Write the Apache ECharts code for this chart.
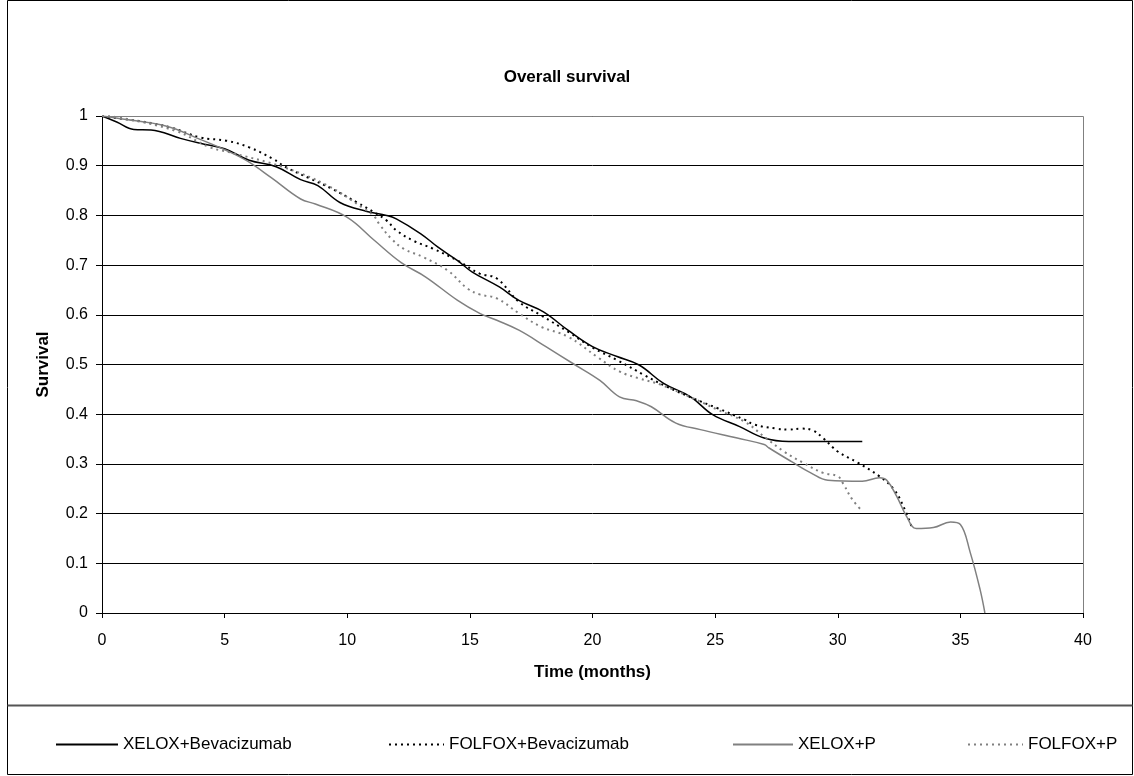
<!DOCTYPE html>
<html>
<head>
<meta charset="utf-8">
<script src="https://cdn.jsdelivr.net/npm/echarts@6/dist/echarts.min.js"></script>
<style>
  html, body { margin: 0; padding: 0; background: #fff; }
  #chart { width: 1134px; height: 776px; }
</style>
</head>
<body>
<div id="chart"></div>
<script>
// XELOX+Bevacizumab
var xeloxBevTime = [0, 0.6, 1.3, 2.0, 3.2, 4.0, 5.0, 6.0, 7.1, 8.1, 8.8, 9.7, 10.8, 11.6, 12.0, 13.0, 13.7, 14.5, 15.1, 16.2, 17.0, 18.0, 19.0, 20.0, 21.0, 21.9, 22.9, 24.0, 24.9, 26.0, 27.0, 28.0, 31.0];
var xeloxBevSurv = [1, 0.988, 0.973, 0.972, 0.955, 0.945, 0.934, 0.911, 0.898, 0.872, 0.86, 0.826, 0.808, 0.80, 0.793, 0.763, 0.736, 0.709, 0.686, 0.656, 0.629, 0.606, 0.569, 0.536, 0.516, 0.499, 0.462, 0.435, 0.399, 0.375, 0.352, 0.345, 0.345];

// FOLFOX+Bevacizumab
var folfoxBevTime = [0, 0.7, 1.5, 2.8, 4.0, 5.1, 6.0, 7.0, 7.5, 8.4, 9.4, 10.4, 11.1, 11.6, 12.0, 12.7, 13.5, 14.5, 15.4, 16.1, 17.0, 17.9, 19.0, 20.0, 21.0, 22.1, 23.0, 24.1, 25.1, 26.2, 26.6, 27.5, 28.0, 28.5, 29.0, 29.4, 30.0, 30.8, 31.7, 32.3, 32.7, 33.0];
var folfoxBevSurv = [1, 0.995, 0.99, 0.977, 0.957, 0.95, 0.937, 0.913, 0.897, 0.876, 0.853, 0.826, 0.806, 0.79, 0.77, 0.749, 0.733, 0.709, 0.683, 0.673, 0.626, 0.599, 0.566, 0.534, 0.509, 0.479, 0.456, 0.432, 0.412, 0.389, 0.379, 0.371, 0.369, 0.371, 0.367, 0.352, 0.325, 0.303, 0.275, 0.248, 0.212, 0.175];

// XELOX+P
var xeloxPTime = [0, 0.7, 2.6, 4.0, 5.1, 5.9, 6.9, 8.1, 8.7, 10.0, 11.1, 12.2, 13.2, 14.5, 15.4, 16.1, 17.0, 18.1, 19.2, 20.3, 21.1, 21.8, 22.4, 23.4, 24.4, 25.9, 27.0, 27.2, 28.1, 28.9, 29.6, 31.0, 31.7, 32.0, 32.4, 32.8, 33.2, 33.9, 34.6, 35.0, 35.4, 35.8, 36.0];
var xeloxPSurv = [1, 0.995, 0.98, 0.953, 0.93, 0.91, 0.876, 0.833, 0.823, 0.796, 0.75, 0.705, 0.676, 0.629, 0.603, 0.589, 0.569, 0.536, 0.502, 0.468, 0.435, 0.427, 0.415, 0.382, 0.369, 0.352, 0.339, 0.332, 0.305, 0.282, 0.267, 0.265, 0.272, 0.267, 0.235, 0.195, 0.17, 0.172, 0.183, 0.178, 0.122, 0.048, 0];

// FOLFOX+P
var folfoxPTime = [0, 0.7, 3.0, 4.4, 5.2, 7.4, 9.2, 10.7, 11.1, 11.3, 11.8, 12.3, 13.1, 14.1, 14.9, 15.4, 16.1, 17.0, 17.9, 19.0, 20.2, 21.1, 21.9, 22.8, 24.1, 25.1, 26.2, 27.0, 27.8, 28.6, 29.4, 30.0, 30.2, 30.6, 31.0];
var folfoxPSurv = [1, 0.997, 0.97, 0.937, 0.927, 0.897, 0.86, 0.813, 0.798, 0.783, 0.753, 0.733, 0.716, 0.689, 0.653, 0.641, 0.633, 0.603, 0.576, 0.556, 0.515, 0.486, 0.472, 0.459, 0.432, 0.409, 0.385, 0.355, 0.325, 0.302, 0.282, 0.275, 0.262, 0.228, 0.205];

var seriesNames = ['XELOX+Bevacizumab', 'FOLFOX+Bevacizumab', 'XELOX+P', 'FOLFOX+P'];

function pairs(t, s) {
  return t.map(function (v, i) { return [v, s[i]]; });
}

var font = 'Liberation Sans, Arial, sans-serif';

function lineSeries(name, data, color, dotted) {
  return {
    name: name,
    type: 'line',
    data: data,
    symbol: 'none',
    smooth: 0.4,
    animation: false,
    lineStyle: {
      color: color,
      width: dotted ? 2 : 1.5,
      type: dotted ? [2, 4] : 'solid'
    },
    itemStyle: { color: color }
  };
}

function legendAt(left, width, name) {
  return {
    left: left,
    top: 731,
    itemWidth: width,
    itemHeight: 18,
    data: [name],
    selectedMode: false,
    itemStyle: { opacity: 0 },
    textStyle: { fontFamily: font, fontSize: 17, color: '#000' }
  };
}

var chart = echarts.init(document.getElementById('chart'));
chart.setOption({
  backgroundColor: '#fff',
  title: {
    text: 'Overall survival',
    left: 'center',
    top: 64,
    textStyle: { fontFamily: font, fontSize: 17, fontWeight: 'bold', color: '#000' }
  },
  legend: [
    legendAt(50, 62, seriesNames[0]),
    legendAt(383, 55, seriesNames[1]),
    legendAt(727, 60, seriesNames[2]),
    legendAt(962, 55, seriesNames[3])
  ],
  grid: { left: 102, right: 51, top: 116, bottom: 163 },
  xAxis: {
    type: 'value',
    min: 0,
    max: 40,
    interval: 5,
    name: 'Time (months)',
    nameLocation: 'middle',
    nameGap: 51,
    nameTextStyle: { fontFamily: font, fontSize: 17, fontWeight: 'bold', color: '#000' },
    axisLine: { lineStyle: { color: '#000', width: 1 } },
    axisTick: { show: true, inside: false, length: 5, lineStyle: { color: '#000' } },
    axisLabel: { fontFamily: font, fontSize: 16, color: '#000', margin: 20 },
    splitLine: { show: false }
  },
  yAxis: {
    type: 'value',
    min: 0,
    max: 1,
    interval: 0.1,
    name: 'Survival',
    nameLocation: 'middle',
    nameGap: 50,
    nameRotate: 90,
    nameTextStyle: { fontFamily: font, fontSize: 17, fontWeight: 'bold', color: '#000' },
    axisLine: { show: true, lineStyle: { color: '#000', width: 1 } },
    axisTick: { show: true, inside: false, length: 6, lineStyle: { color: '#000' } },
    axisLabel: { fontFamily: font, fontSize: 16, color: '#000', margin: 14 },
    splitLine: { show: true, lineStyle: { color: '#000', width: 1 } }
  },
  graphic: [
    { type: 'rect', z: 100, silent: true,
      shape: { x: 7.5, y: 0.5, width: 1125, height: 774 },
      style: { fill: null, stroke: '#000', lineWidth: 1 } },
    { type: 'line', z: 100, silent: true,
      shape: { x1: 7.5, y1: 705.5, x2: 1132.5, y2: 705.5 },
      style: { stroke: '#555', lineWidth: 2 } },
    { type: 'polyline', z: 100, silent: true,
      shape: { points: [[102, 116.5], [1083.5, 116.5], [1083.5, 613]] },
      style: { fill: null, stroke: '#808080', lineWidth: 1 } }
  ],
  series: [
    lineSeries(seriesNames[0], pairs(xeloxBevTime, xeloxBevSurv), '#000', false),
    lineSeries(seriesNames[1], pairs(folfoxBevTime, folfoxBevSurv), '#000', true),
    lineSeries(seriesNames[2], pairs(xeloxPTime, xeloxPSurv), '#808080', false),
    lineSeries(seriesNames[3], pairs(folfoxPTime, folfoxPSurv), '#808080', true)
  ]
});
</script>
</body>
</html>
